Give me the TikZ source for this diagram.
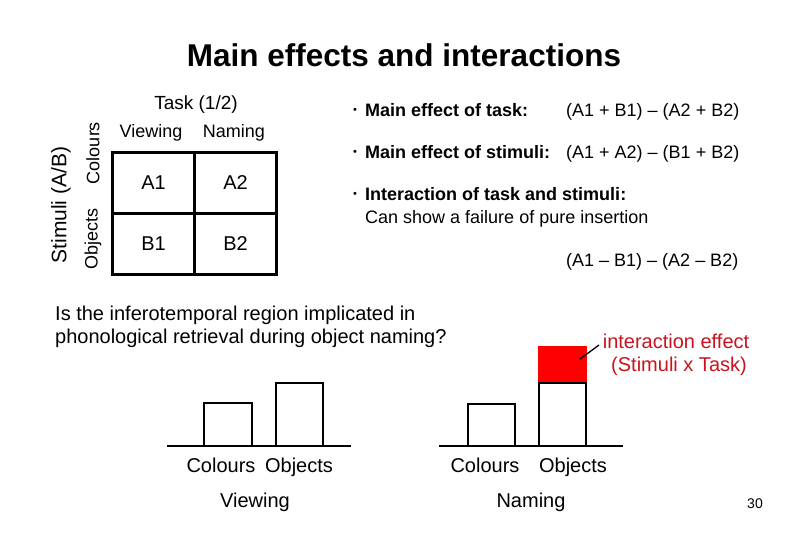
\documentclass[tikz,border=0pt]{standalone}
\usepackage{fontspec}
\setmainfont{Liberation Sans}
\definecolor{ired}{RGB}{200,20,30}
\definecolor{bred}{RGB}{255,0,0}
\begin{document}
\begin{tikzpicture}[x=1pt,y=-1pt,
  lbl/.style={inner sep=0pt,font=\fontsize{20}{23}\selectfont},
  blbl/.style={inner sep=0pt,anchor=base,font=\fontsize{20}{23}\selectfont},
  hdr/.style={inner sep=0pt,font=\fontsize{18}{21}\selectfont},
  btxt/.style={inner sep=0pt,anchor=base west,font=\fontsize{18}{21}\selectfont},
  dot/.style={inner sep=0pt,font=\fontsize{11}{13}\selectfont},
  bar/.style={draw,line width=2.4pt,fill=white},
  base/.style={line width=2.4pt},
  cell/.style={draw,line width=2.2pt,minimum width=82pt,minimum height=61pt,inner sep=0pt,font=\fontsize{20}{23}\selectfont}]
\useasboundingbox[fill=white] (0,0) rectangle (810,540);
% title
\node[inner sep=0pt,font=\bfseries\fontsize{31.5}{35}\selectfont] (title) at (404,55) {Main effects and interactions};
% table
\node[inner sep=0pt,font=\fontsize{19}{22}\selectfont] (task) at (196,105) {Task (1/2)};
\node[hdr] (view) at (151,133) {Viewing};
\node[hdr] (nam) at (234,133) {Naming};
\node[cell] (a1) at (153.5,183) {A1};
\node[cell] (a2) at (235.5,183) {A2};
\node[cell] (b1) at (153.5,244) {B1};
\node[cell] (b2) at (235.5,244) {B2};
\node[hdr,rotate=90] (col) at (93,153) {Colours};
\node[hdr,rotate=90] (obj) at (93,239) {Objects};
\node[inner sep=0pt,rotate=90,font=\fontsize{21}{24}\selectfont] (stim) at (61,205) {Stimuli (A/B)};
% bullets
\node[dot] (d1) at (355,111) {\textbullet};
\node[btxt] (bl1) at (365,116.5) {\textbf{Main effect of task:}};
\node[btxt] (f1) at (566,116.5) {(A1 + B1) -- (A2 + B2)};
\node[dot] (d2) at (355,153) {\textbullet};
\node[btxt] (bl2) at (365,158.5) {\textbf{Main effect of stimuli:}};
\node[btxt] (f2) at (566,158.5) {(A1 + A2) -- (B1 + B2)};
\node[dot] (d3) at (355,195) {\textbullet};
\node[btxt] (bl3) at (365,200.5) {\textbf{Interaction of task and stimuli:}};
\node[btxt] (bl3b) at (365,223.5) {Can show a failure of pure insertion};
\node[btxt] (f3) at (566,266.5) {(A1 -- B1) -- (A2 -- B2)};
% question
\node[lbl,anchor=base west] (q1) at (55,320) {Is the inferotemporal region implicated in};
\node[lbl,anchor=base west] (q2) at (55,343) {phonological retrieval during object naming?};
% left chart
\draw[base] (167,446) coordinate (lb1) -- (351,446) coordinate (lb2);
\draw[bar] (204,446) rectangle (252,403);
\draw[bar] (276,446) rectangle (323,383);
\node[blbl] (lc) at (221,472) {Colours};
\node[blbl] (lo) at (299,472) {Objects};
\node[blbl] (lv) at (255,507) {Viewing};
% right chart
\draw[base] (439,446) coordinate (rb1) -- (623,446) coordinate (rb2);
\draw[bar] (468,446) rectangle (515,404);
\draw[bar] (539,446) rectangle (586,383);
\fill[bred] (538,346) rectangle (587,381.8);
\node[blbl] (rc) at (485,472) {Colours};
\node[blbl] (ro) at (573,472) {Objects};
\node[blbl] (rn) at (531,507) {Naming};
\node[blbl,text=ired] (ie1) at (676,348) {interaction effect};
\node[blbl,text=ired] (ie2) at (679,371) {(Stimuli x Task)};
\coordinate (ptr) at (580,359);
\draw[line width=1.3pt] (ptr) -- (599,345);
% page number
\node[inner sep=0pt,font=\fontsize{14}{16}\selectfont] (pn) at (755,504) {30};
\end{tikzpicture}
\end{document}
